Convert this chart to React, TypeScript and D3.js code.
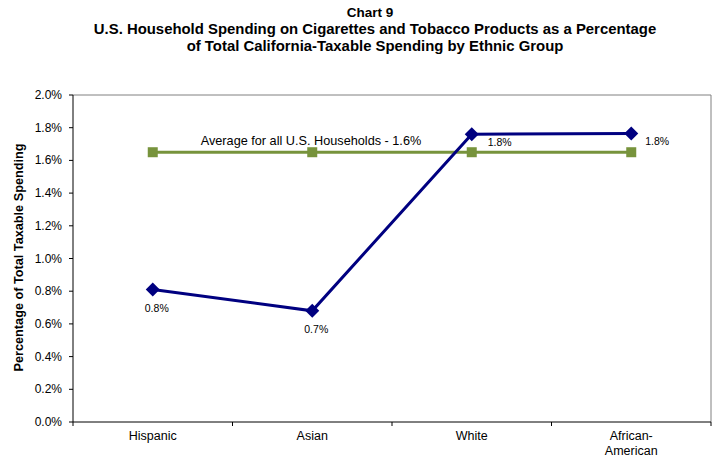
import React from "react";
import * as d3 from "d3";

const categories = ["Hispanic", "Asian", "White", "African-American"];
const categoryLines = [["Hispanic"], ["Asian"], ["White"], ["African-", "American"]];
const spending = [0.81, 0.68, 1.76, 1.765];
const spendingLabels = ["0.8%", "0.7%", "1.8%", "1.8%"];
const average = [1.65, 1.65, 1.65, 1.65];
const yTicks = [0, 0.2, 0.4, 0.6, 0.8, 1.0, 1.2, 1.4, 1.6, 1.8, 2.0];
const titleLines = [
  "Chart 9",
  "U.S. Household Spending on Cigarettes and Tobacco Products as a Percentage",
  "of Total California-Taxable Spending by Ethnic Group",
];
const avgLabel = "Average for all U.S. Households - 1.6%";
const yLabel = "Percentage of Total Taxable Spending";

export default function App() {
  const W = 719, H = 457;
  const left = 73, right = 711, top = 95, bottom = 422;
  const x = d3.scaleBand().domain(categories).range([left, right]);
  const y = d3.scaleLinear().domain([0, 2]).range([bottom, top]);
  const cx = (c: string) => (x(c) as number) + x.bandwidth() / 2;
  const line = d3.line<number>().x((_, i) => cx(categories[i])).y((d) => y(d));
  const font = "Liberation Sans, Arial, sans-serif";
  const labelPos = [
    { dx: 4, dy: 22, anchor: "middle" },
    { dx: 4, dy: 22, anchor: "middle" },
    { dx: 16, dy: 12, anchor: "start" },
    { dx: 14, dy: 12, anchor: "start" },
  ];
  return (
    <svg width={W} height={H} style={{ position: "absolute", left: 0, top: 0, fontFamily: font }}>
      <rect width={W} height={H} fill="#fff" />
      {titleLines.map((t, i) => (
        <text key={i} x={i === 0 ? 370 : 375} y={17 + i * 17} textAnchor="middle" fontSize={i === 0 ? 13.5 : 14.9} fontWeight="bold" fill="#000">
          {t}
        </text>
      ))}
      {/* plot frame */}
      <line x1={left} x2={right} y1={top} y2={top} stroke="#808080" strokeWidth={1} />
      <line x1={right} x2={right} y1={top} y2={bottom} stroke="#808080" strokeWidth={1} />
      <line x1={left} x2={left} y1={top} y2={bottom} stroke="#000" strokeWidth={1} />
      <line x1={left} x2={right} y1={bottom} y2={bottom} stroke="#000" strokeWidth={1} />
      {yTicks.map((t) => (
        <g key={t}>
          <line x1={left - 4} x2={left} y1={y(t)} y2={y(t)} stroke="#000" />
          <text x={left - 11} y={y(t) + 4} textAnchor="end" fontSize={12} fill="#000">
            {t.toFixed(1) + "%"}
          </text>
        </g>
      ))}
      {categories.map((c, i) => (
        <line key={"t" + i} x1={x(c) as number} x2={x(c) as number} y1={bottom} y2={bottom + 4} stroke="#000" />
      ))}
      <line x1={right} x2={right} y1={bottom} y2={bottom + 4} stroke="#000" />
      {categories.map((c, i) => (
        <text key={"c" + i} x={cx(c)} y={bottom + 18} textAnchor="middle" fontSize={12.5} fill="#000">
          {categoryLines[i].map((l, j) => (
            <tspan key={j} x={cx(c)} dy={j === 0 ? 0 : 15}>
              {l}
            </tspan>
          ))}
        </text>
      ))}
      <text
        transform={`translate(23,${(top + bottom) / 2 - 1}) rotate(-90)`}
        textAnchor="middle"
        fontSize={12.7}
        fontWeight="bold"
        fill="#000"
      >
        {yLabel}
      </text>
      {/* average line */}
      <path d={line(average) || ""} fill="none" stroke="#77933C" strokeWidth={3} />
      {average.map((v, i) => (
        <rect key={"a" + i} x={cx(categories[i]) - 5} y={y(v) - 5} width={10} height={10} fill="#77933C" />
      ))}
      <text x={311} y={145} textAnchor="middle" fontSize={12.7} fill="#000">
        {avgLabel}
      </text>
      {/* spending line */}
      <path d={line(spending) || ""} fill="none" stroke="#000080" strokeWidth={3} />
      {spending.map((v, i) => {
        const px = cx(categories[i]), py = y(v);
        return (
          <path key={"s" + i} d={`M${px},${py - 7}L${px + 7},${py}L${px},${py + 7}L${px - 7},${py}Z`} fill="#000080" />
        );
      })}
      {spending.map((v, i) => (
        <text
          key={"l" + i}
          x={cx(categories[i]) + labelPos[i].dx}
          y={y(v) + labelPos[i].dy}
          textAnchor={labelPos[i].anchor}
          fontSize={10.5}
          fill="#000"
        >
          {spendingLabels[i]}
        </text>
      ))}
    </svg>
  );
}
